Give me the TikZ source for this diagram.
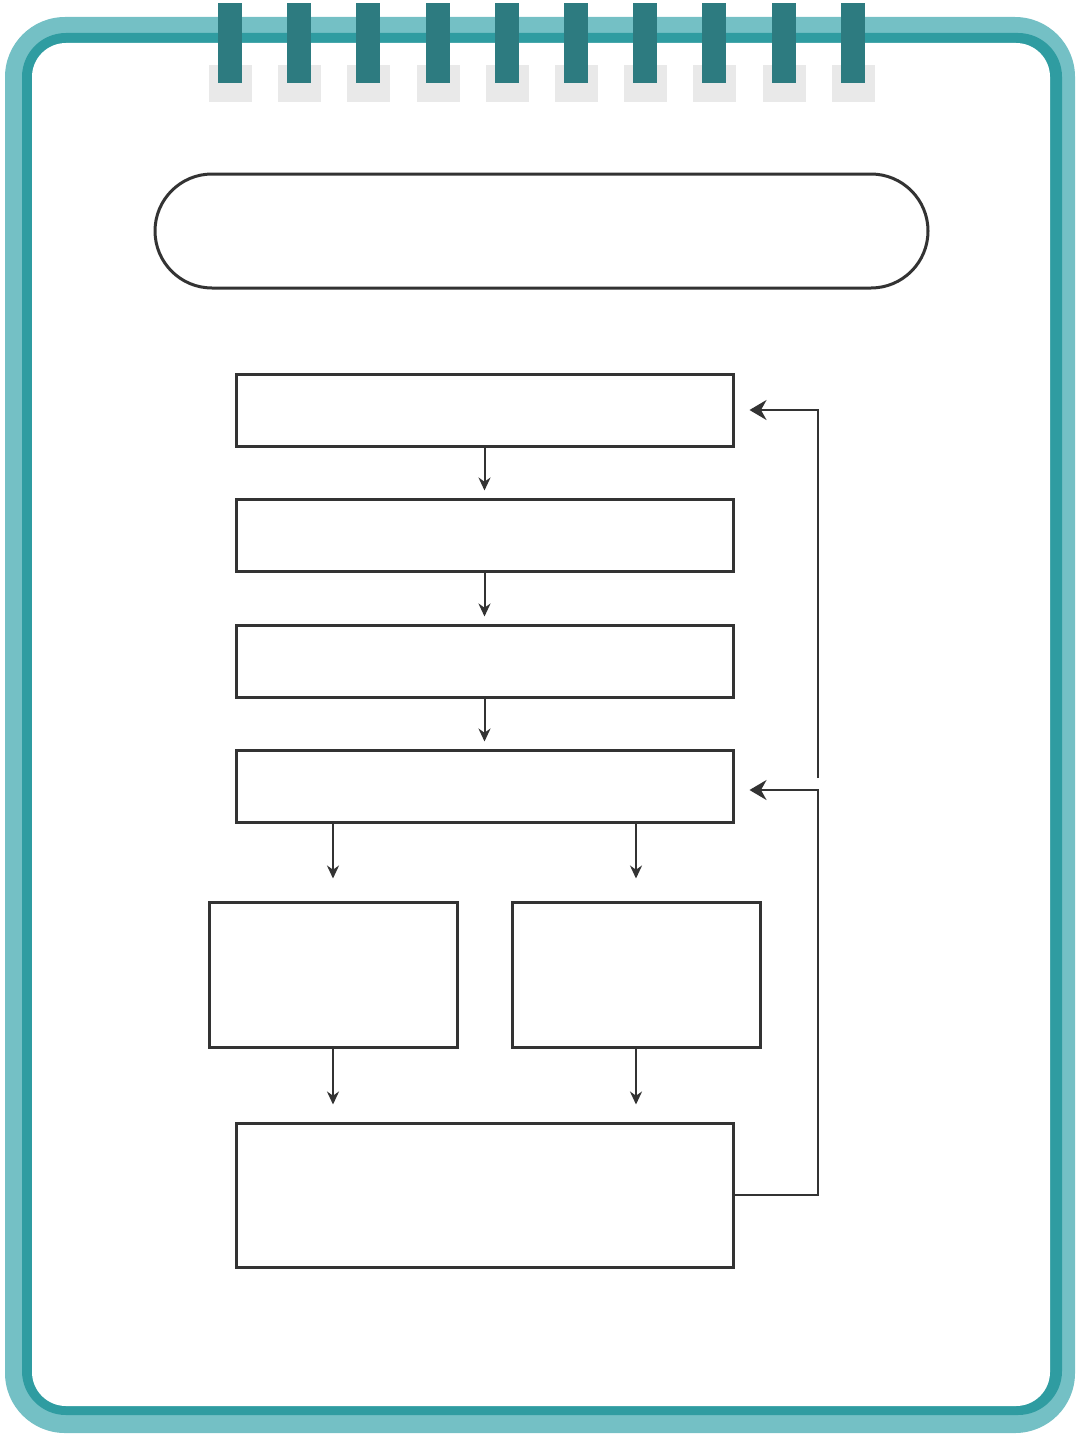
\documentclass[tikz,border=0pt]{standalone}
\usetikzlibrary{arrows.meta}

\definecolor{padlight}{HTML}{74C0C5}
\definecolor{paddark}{HTML}{2F9CA1}
\definecolor{ringcol}{HTML}{2D7B80}
\definecolor{ringshade}{HTML}{E9E9E9}
\definecolor{ink}{HTML}{333333}

\begin{document}
\begin{tikzpicture}[x=0.5pt, y=-0.5pt,
  box/.style={draw=ink, line width=1.5pt, minimum width=248.5pt, minimum height=36pt, inner sep=0pt},
  half/.style={box, minimum width=124pt, minimum height=72.5pt},
  arr/.style={draw=ink, line width=1pt, -{Stealth[length=6.5pt, width=6pt]}},
  back/.style={draw=ink, line width=1pt, -{Stealth[length=8.5pt, width=10pt]}}]
  \useasboundingbox (0,0) rectangle (1077,1434);
  % notepad frame
  \fill[padlight, rounded corners=30pt] (5,17) rectangle (1075,1433);
  \fill[paddark, rounded corners=22pt] (22,33) rectangle (1062,1415);
  \fill[white, rounded corners=17pt] (32,43) rectangle (1050,1406);
  % spiral rings
  \foreach \i in {0,...,9} {
    \fill[ringshade] (209+69.2*\i,65) rectangle ++(43,37);
    \fill[ringcol] (218+69.2*\i,3) rectangle ++(24,80);
  }
  % title
  \node[box, minimum width=386.5pt, minimum height=57pt, rounded corners=28.5pt] (title) at (541.5,231) {};
  % steps
  \node[box] (s1) at (484.5,410) {};
  \node[box] (s2) at (484.5,535) {};
  \node[box] (s3) at (484.5,661) {};
  \node[box] (s4) at (484.5,786) {};
  \node[half] (left) at (333,974.5) {};
  \node[half] (right) at (636,974.5) {};
  \node[box, minimum height=72pt] (result) at (484.5,1195) {};
  \draw[arr, shorten >=3.5pt] (s1) -- (s2);
  \draw[arr, shorten >=3.5pt] (s2) -- (s3);
  \draw[arr, shorten >=3.5pt] (s3) -- (s4);
  \draw[arr, shorten >=11pt] (s4.south -| left.north) -- (left.north);
  \draw[arr, shorten >=11pt] (s4.south -| right.north) -- (right.north);
  \draw[arr, shorten >=8.5pt] (left.south) -- (left.south |- result.north);
  \draw[arr, shorten >=8.5pt] (right.south) -- (right.south |- result.north);
  % feedback
  \coordinate (rb) at (818,790);
  \coordinate (rt) at (818,778);
  \draw[back, shorten >=7.5pt] (result.east) -| (rb) -- (s4.east |- rb);
  \draw[back, shorten >=7.5pt] (rt) |- (s1.east);
\end{tikzpicture}
\end{document}
